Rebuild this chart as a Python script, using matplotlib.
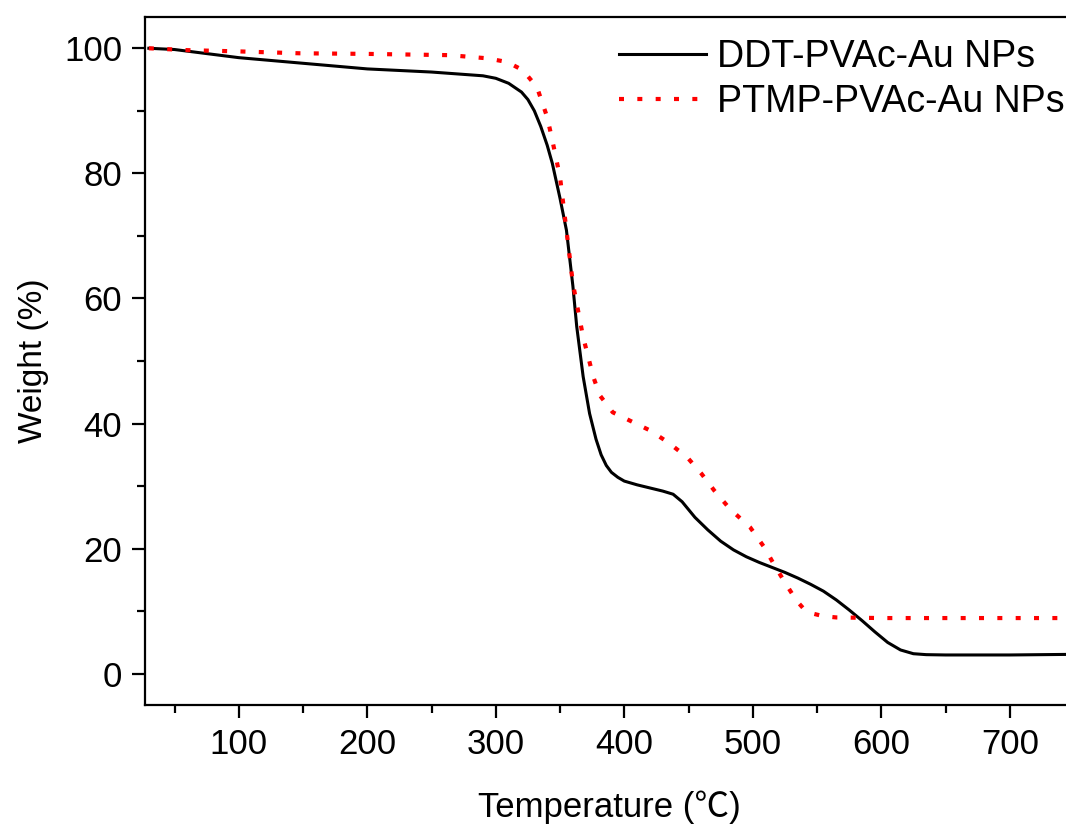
import matplotlib
matplotlib.use("Agg")
import matplotlib.pyplot as plt

plt.rcParams['font.family'] = ['Liberation Sans', 'Noto Sans CJK SC', 'DejaVu Sans']

# DDT-PVAc-Au NPs (solid black)
t_ddt = [30, 50, 100, 150, 200, 250, 290, 300, 310, 320, 325, 330, 335, 340, 344, 350,
         355, 360, 363, 368, 373, 378, 382, 386, 390, 395, 400, 410, 420, 430, 438,
         445, 455, 465, 475, 485, 495, 505, 515, 525, 535, 545, 555, 565, 575, 585,
         595, 605, 615, 625, 635, 650, 700, 750]
w_ddt = [100, 99.8, 98.5, 97.6, 96.7, 96.2, 95.6, 95.2, 94.4, 93.0, 91.8, 90.0, 87.5,
         84.5, 81.6, 76, 70.9, 62, 55.5, 47.5, 41.6, 37.5, 35.0, 33.3, 32.2, 31.4, 30.8,
         30.2, 29.7, 29.2, 28.7, 27.5, 25.0, 23.0, 21.2, 19.8, 18.7, 17.8, 17.0, 16.2,
         15.3, 14.3, 13.2, 11.8, 10.2, 8.5, 6.7, 5.0, 3.8, 3.2, 3.05, 3.0, 3.0, 3.1]

# PTMP-PVAc-Au NPs (red dotted)
t_ptmp = [30, 60, 100, 147, 200, 264, 293, 309, 321, 332, 340, 344, 350, 355, 360, 368,
          376, 381, 391, 407, 420, 434, 449, 460, 470, 482, 498, 509, 517, 525, 534,
          540, 547, 555, 565, 600, 700, 750]
w_ptmp = [100, 99.7, 99.5, 99.2, 99.1, 98.9, 98.4, 97.8, 96.5, 93.8, 89, 85.3, 79.4, 70.9,
          62.4, 53.8, 47.4, 44.5, 41.8, 40.2, 38.9, 37, 34.6, 32, 29.3, 26.4, 23.4,
          20.2, 17.3, 14.6, 11.7, 10.3, 9.6, 9.2, 9.0, 8.9, 8.9, 8.9]

fig = plt.figure(figsize=(10.66, 8.25), dpi=100)
ax = fig.add_axes([145 / 1066, 120 / 825, (1074 - 145) / 1066, (705 - 17) / 825])

ax.plot(t_ddt, w_ddt, color='black', lw=2.2, label='DDT-PVAc-Au NPs')
ax.plot(t_ptmp, w_ptmp, color='red', lw=3, linestyle=(0, (1.2, 3.2)),
        label='PTMP-PVAc-Au NPs')

ax.set_xlim(27, 750)
ax.set_ylim(-5, 105)
ax.set_xticks([100, 200, 300, 400, 500, 600, 700])
ax.set_xticks([50, 150, 250, 350, 450, 550, 650, 750], minor=True)
ax.set_yticks([0, 20, 40, 60, 80, 100])
ax.set_yticks([10, 30, 50, 70, 90], minor=True)
ax.tick_params(which='major', direction='out', length=9.5, width=1.6, labelsize=25, pad=7)
ax.tick_params(which='minor', direction='out', length=6, width=1.6)
for s in ax.spines.values():
    s.set_linewidth(1.6)

ax.set_xlabel('Temperature (℃)', fontsize=25, labelpad=21)
ax.set_ylabel('Weight (%)', fontsize=24, labelpad=11)

ax.legend(loc='upper left', bbox_to_anchor=(0.581, 0.953), bbox_transform=fig.transFigure,
          frameon=False, fontsize=27, handlelength=2.3, handletextpad=0.3,
          labelspacing=0.25, borderpad=0, borderaxespad=0)

fig.savefig('out.png', dpi=100)
